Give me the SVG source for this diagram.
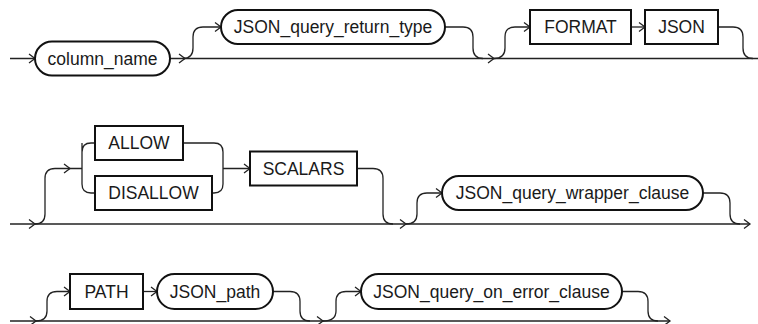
<svg xmlns="http://www.w3.org/2000/svg" xmlns:xlink="http://www.w3.org/1999/xlink" width="758" height="324" viewBox="0 0 758 324">
<style>
  .box { fill: #fff; stroke: #111; stroke-width: 2; }
  .ln { fill: none; stroke: #222; stroke-width: 1.3; }
  .t { font-family: "Liberation Sans", Arial, sans-serif; font-size: 17.5px; fill: #1a1a1a; text-anchor: middle; }
</style>
<defs>
  <path id="ah" d="M-6,-4.5 L0,0 L-6,4.5" fill="none" stroke="#222" stroke-width="1.3"/>
</defs>
<rect width="758" height="324" fill="#fff"/>
<g id="connectors">
  <!-- row 1 -->
  <path class="ln" d="M10 58.5 H35 M170 58.5 H758"/>
  <use href="#ah" x="35" y="58.5"/>
  <path class="ln" d="M183 58.5 Q193 58.5 193 48 V37 Q193 27 203 27 H221"/>
  <use href="#ah" x="185" y="58.5"/>
  <use href="#ah" x="221" y="27"/>
  <path class="ln" d="M445 27 H463 Q473 27 473 37 V48 Q473 58.5 483 58.5"/>
  <use href="#ah" x="494" y="58.5"/>
  <path class="ln" d="M494 58.5 Q505 58.5 505 48 V37 Q505 27 515 27 H530"/>
  <use href="#ah" x="530" y="27"/>
  <path class="ln" d="M631 27 H645"/>
  <use href="#ah" x="645" y="27"/>
  <path class="ln" d="M718 27 H733 Q743 27 743 37 V48 Q743 58.5 753 58.5"/>
  <!-- row 2 -->
  <path class="ln" d="M10 224 H750"/>
  <use href="#ah" x="35" y="224"/>
  <path class="ln" d="M35 224 Q45 224 45 214 V178.5 Q45 168.5 55 168.5 H82"/>
  <use href="#ah" x="70" y="168.5"/>
  <path class="ln" d="M82 143 V184 Q82 193 91 193 H95 M82 168.5 V152 Q82 143 91 143 H95"/>
  <path class="ln" d="M183 143 H214 Q223 143 223 152 V184 Q223 193 214 193 H212 M223 168.5 H250"/>
  <use href="#ah" x="250" y="168.5"/>
  <path class="ln" d="M357 168.5 H373 Q383 168.5 383 178.5 V214 Q383 224 393 224"/>
  <use href="#ah" x="406" y="224"/>
  <path class="ln" d="M406 224 Q417 224 417 214 V203 Q417 193 427 193 H442"/>
  <use href="#ah" x="442" y="193"/>
  <path class="ln" d="M703 193 H720 Q730 193 730 203 V214 Q730 224 740 224"/>
  <use href="#ah" x="750" y="224"/>
  <!-- row 3 -->
  <path class="ln" d="M10 321 H670"/>
  <use href="#ah" x="36" y="321"/>
  <path class="ln" d="M36 321 Q47 321 47 311 V301.5 Q47 291.5 57 291.5 H70"/>
  <use href="#ah" x="70" y="291.5"/>
  <path class="ln" d="M143 291.5 H157"/>
  <use href="#ah" x="157" y="291.5"/>
  <path class="ln" d="M273 291.5 H290 Q300 291.5 300 301.5 V311 Q300 321 310 321"/>
  <use href="#ah" x="323" y="321"/>
  <path class="ln" d="M323 321 Q336 321 336 311 V301.5 Q336 291.5 346 291.5 H361"/>
  <use href="#ah" x="361" y="291.5"/>
  <path class="ln" d="M622 291.5 H638 Q648 291.5 648 301.5 V311 Q648 321 658 321"/>
  <use href="#ah" x="670" y="321"/>
</g>
<g id="column_name">
  <rect class="box" x="35" y="41.5" width="135" height="34" rx="17"/>
  <text class="t" x="102.5" y="64.5">column_name</text>
</g>
<g id="JSON_query_return_type">
  <rect class="box" x="221" y="10" width="224" height="34" rx="17"/>
  <text class="t" x="333" y="33">JSON_query_return_type</text>
</g>
<g id="FORMAT">
  <rect class="box" x="530" y="10" width="101" height="34"/>
  <text class="t" x="580.5" y="33">FORMAT</text>
</g>
<g id="JSON">
  <rect class="box" x="645" y="10" width="73" height="34"/>
  <text class="t" x="681.5" y="33">JSON</text>
</g>
<g id="ALLOW">
  <rect class="box" x="95" y="126" width="88" height="34"/>
  <text class="t" x="139" y="149">ALLOW</text>
</g>
<g id="DISALLOW">
  <rect class="box" x="95" y="176" width="117" height="34"/>
  <text class="t" x="153.5" y="199">DISALLOW</text>
</g>
<g id="SCALARS">
  <rect class="box" x="250" y="151.5" width="107" height="34"/>
  <text class="t" x="303.5" y="174.5">SCALARS</text>
</g>
<g id="JSON_query_wrapper_clause">
  <rect class="box" x="442" y="176" width="261" height="34" rx="17"/>
  <text class="t" x="572.5" y="199">JSON_query_wrapper_clause</text>
</g>
<g id="PATH">
  <rect class="box" x="70" y="274" width="73" height="35"/>
  <text class="t" x="106.5" y="297.5">PATH</text>
</g>
<g id="JSON_path">
  <rect class="box" x="157" y="274" width="116" height="35" rx="17.5"/>
  <text class="t" x="215" y="297.5">JSON_path</text>
</g>
<g id="JSON_query_on_error_clause">
  <rect class="box" x="361" y="274" width="261" height="35" rx="17.5"/>
  <text class="t" x="491.5" y="297.5">JSON_query_on_error_clause</text>
</g>
</svg>
